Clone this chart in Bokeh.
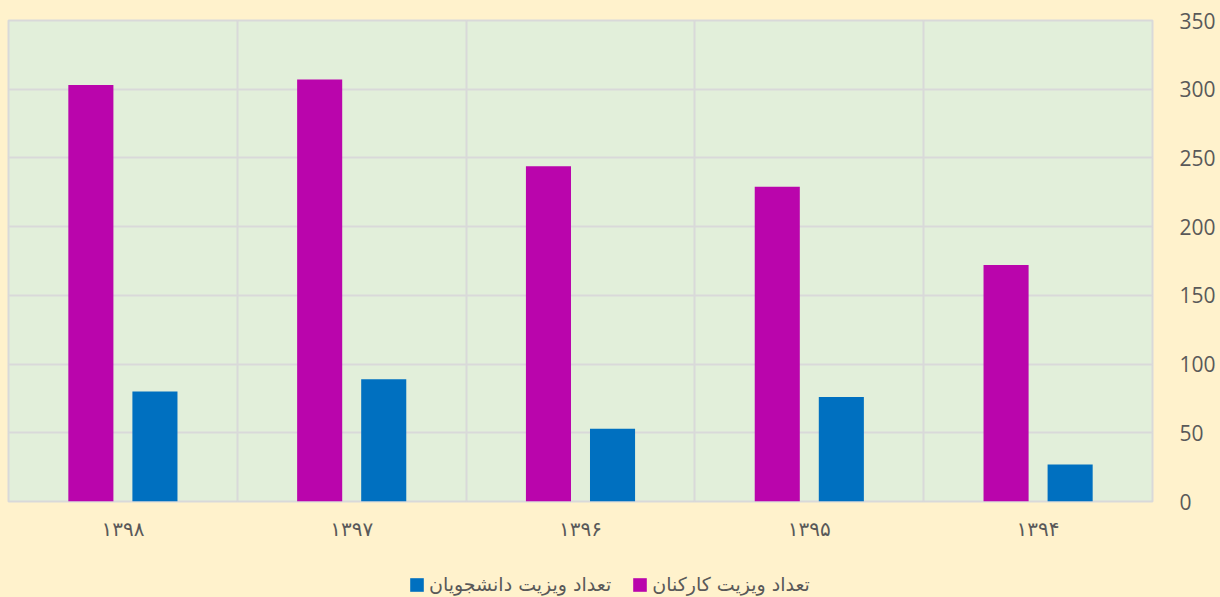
import numpy as np
from bokeh.plotting import figure
from bokeh.layouts import column
from bokeh.models import ColumnDataSource, Range1d, FixedTicker, SingleIntervalTicker, Legend, LegendItem
from bokeh.transform import dodge
from bokeh.embed import file_html
from bokeh.resources import INLINE

years = ["۱۳۹۸", "۱۳۹۷", "۱۳۹۶", "۱۳۹۵", "۱۳۹۴"]
staff = [303, 307, 244, 229, 172]
students = [80, 89, 53, 76, 27]
staff_label = "تعداد ویزیت کارکنان"
students_label = "تعداد ویزیت دانشجویان"

BG = "#FFF2CC"
PLOT_BG = "#E2EFDA"
GRID = "#D9D9D9"
TXT = "#595959"
MAG = "#BA05AC"
BLUE = "#0070C0"

pos = [i + 0.5 for i in range(len(years))]
src = ColumnDataSource(dict(x=pos, staff=staff, students=students))

p = figure(width=1220, height=560, output_backend="svg", toolbar_location=None,
           x_range=Range1d(0, len(years)), y_range=Range1d(0, 350),
           y_axis_location="right",
           min_border_left=8, min_border_right=68, min_border_top=20, min_border_bottom=59)
p.background_fill_color = PLOT_BG
p.border_fill_color = BG
p.outline_line_color = GRID
p.outline_line_width = 2

r1 = p.vbar(x=dodge("x", -0.14, range=p.x_range), top="staff", width=0.197, source=src,
            fill_color=MAG, line_color=None)
r2 = p.vbar(x=dodge("x", 0.14, range=p.x_range), top="students", width=0.197, source=src,
            fill_color=BLUE, line_color=None)

p.xaxis.ticker = FixedTicker(ticks=pos)
p.xaxis.major_label_overrides = {v: years[i] for i, v in enumerate(pos)}
p.xaxis.major_label_text_font = "DejaVu Sans"
p.xaxis.major_label_text_font_size = "20px"
p.xaxis.major_label_text_color = TXT
p.xaxis.major_label_standoff = 15
p.xaxis.major_tick_out = 0
p.xaxis.major_tick_in = 0
p.xaxis.axis_line_color = None
p.xaxis.major_tick_line_color = None
p.xaxis.minor_tick_line_color = None

p.yaxis.ticker = SingleIntervalTicker(interval=50)
p.yaxis.major_label_text_font = "Open Sans"
p.yaxis.major_label_text_font_size = "21px"
p.yaxis.major_label_text_color = TXT
p.yaxis.major_label_standoff = 23
p.yaxis.major_tick_out = 0
p.yaxis.major_tick_in = 0
p.yaxis.axis_line_color = None
p.yaxis.major_tick_line_color = None
p.yaxis.minor_tick_line_color = None

p.xgrid.ticker = FixedTicker(ticks=list(range(1, len(years))))
p.xgrid.grid_line_color = GRID
p.xgrid.grid_line_width = 2
p.ygrid.grid_line_color = GRID
p.ygrid.grid_line_width = 2

# legend strip below the chart (key renderers sit outside the strip's visible range)
lg = figure(width=1220, height=37, output_backend="svg", toolbar_location=None,
            x_range=Range1d(0, 1), y_range=Range1d(0, 1),
            min_border_left=0, min_border_right=0, min_border_top=0, min_border_bottom=0)
lg.axis.visible = False
lg.grid.visible = False
lg.background_fill_color = BG
lg.border_fill_color = BG
lg.outline_line_color = None
key_src = ColumnDataSource(dict(x=[-10], top=[-10]))
k1 = lg.vbar(x="x", top="top", width=0.1, source=key_src, fill_color=MAG, line_color=None)
k2 = lg.vbar(x="x", top="top", width=0.1, source=key_src, fill_color=BLUE, line_color=None)

legend = Legend(items=[LegendItem(label=students_label, renderers=[k2]),
                       LegendItem(label=staff_label, renderers=[k1])],
                orientation="horizontal", location=(400, 2),
                background_fill_alpha=0, border_line_color=None,
                label_text_font="DejaVu Sans", label_text_font_size="19px",
                label_text_color=TXT, glyph_width=17, glyph_height=17,
                label_standoff=4, spacing=20, padding=0, margin=0)
lg.add_layout(legend, "center")

layout = column(p, lg, spacing=0)
html = file_html(layout, INLINE)
html = html.replace("<head>", "<head><style>html,body{background:%s;}</style>" % BG, 1)
open("out.html", "w").write(html)
